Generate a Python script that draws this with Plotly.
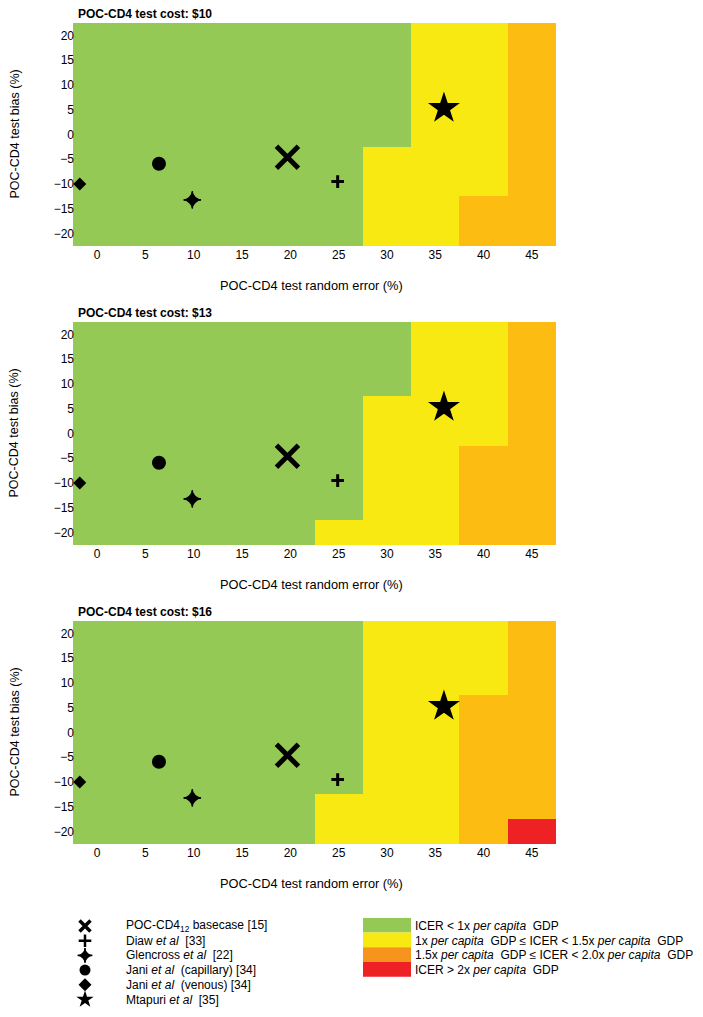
import plotly.graph_objects as go

# --- data ---
RANDOM_ERROR = [0, 5, 10, 15, 20, 25, 30, 35, 40, 45]
BIAS = [-20, -15, -10, -5, 0, 5, 10, 15, 20]

# ICER category per cell: 0 <1x, 1 1-1.5x, 2 1.5-2x, 3 >2x  (rows = bias -20..20)
COST_10 = [
    [0, 0, 0, 0, 0, 0, 1, 1, 2, 2],
    [0, 0, 0, 0, 0, 0, 1, 1, 2, 2],
    [0, 0, 0, 0, 0, 0, 1, 1, 1, 2],
    [0, 0, 0, 0, 0, 0, 1, 1, 1, 2],
    [0, 0, 0, 0, 0, 0, 0, 1, 1, 2],
    [0, 0, 0, 0, 0, 0, 0, 1, 1, 2],
    [0, 0, 0, 0, 0, 0, 0, 1, 1, 2],
    [0, 0, 0, 0, 0, 0, 0, 1, 1, 2],
    [0, 0, 0, 0, 0, 0, 0, 1, 1, 2],
]
COST_13 = [
    [0, 0, 0, 0, 0, 1, 1, 1, 2, 2],
    [0, 0, 0, 0, 0, 0, 1, 1, 2, 2],
    [0, 0, 0, 0, 0, 0, 1, 1, 2, 2],
    [0, 0, 0, 0, 0, 0, 1, 1, 2, 2],
    [0, 0, 0, 0, 0, 0, 1, 1, 1, 2],
    [0, 0, 0, 0, 0, 0, 1, 1, 1, 2],
    [0, 0, 0, 0, 0, 0, 0, 1, 1, 2],
    [0, 0, 0, 0, 0, 0, 0, 1, 1, 2],
    [0, 0, 0, 0, 0, 0, 0, 1, 1, 2],
]
COST_16 = [
    [0, 0, 0, 0, 0, 1, 1, 1, 2, 3],
    [0, 0, 0, 0, 0, 1, 1, 1, 2, 2],
    [0, 0, 0, 0, 0, 0, 1, 1, 2, 2],
    [0, 0, 0, 0, 0, 0, 1, 1, 2, 2],
    [0, 0, 0, 0, 0, 0, 1, 1, 2, 2],
    [0, 0, 0, 0, 0, 0, 1, 1, 2, 2],
    [0, 0, 0, 0, 0, 0, 1, 1, 1, 2],
    [0, 0, 0, 0, 0, 0, 1, 1, 1, 2],
    [0, 0, 0, 0, 0, 0, 1, 1, 1, 2],
]
PANEL_COSTS = ["$10", "$13", "$16"]

STUDY_LABELS = [
    "POC-CD4<sub>12</sub> basecase [15]",
    "Diaw <i>et al</i>  [33]",
    "Glencross <i>et al</i>  [22]",
    "Jani <i>et al</i>  (capillary) [34]",
    "Jani <i>et al</i>  (venous) [34]",
    "Mtapuri <i>et al</i>  [35]",
]
STUDY_ERROR = [19.7, 24.9, 9.85, 6.4, -1.8, 35.9]
STUDY_BIAS = [-4.6, -9.5, -13.2, -5.9, -10.0, 5.3]

ICER_LABELS = [
    "ICER < 1x <i>per capita</i>  GDP",
    "1x <i>per capita</i>  GDP \u2264 ICER < 1.5x <i>per capita</i>  GDP",
    "1.5x <i>per capita</i>  GDP \u2264 ICER < 2.0x <i>per capita</i>  GDP",
    "ICER > 2x <i>per capita</i>  GDP",
]

# --- styling ---
FONT = "Liberation Sans, Arial, sans-serif"
W, H = 703, 1017
GREEN, YELLOW, AMBER, RED = "#93c954", "#f8e913", "#fdbc11", "#ee2125"
LEGEND_COLORS = [GREEN, YELLOW, "#f7941e", RED]
colorscale = [[0, GREEN], [0.25, GREEN], [0.25, YELLOW], [0.5, YELLOW],
              [0.5, AMBER], [0.75, AMBER], [0.75, RED], [1, RED]]

# marker styles per study (Glencross drawn as a thin spike cross over a small star)
symbols = ["x-thin-open", "cross-thin-open", "star-diamond", "circle", "diamond", "star"]
plot_sizes = [22, 9, 13, 14, 10, 24]
plot_lw = [5, 3, 0, 0, 0, 0]
leg_sizes = [11, 9, 11, 11, 10, 13]
leg_lw = [3.5, 2.5, 0, 0, 0, 0]

X0, X1 = 73, 556
panel_tops = [23, 322, 621]
PH = 223


def px_x(v):
    return v / W


def px_y(v):
    return 1 - v / H


def add_marker(k, x, y, size, lw, xa, ya):
    fig.add_trace(go.Scatter(
        x=x, y=y, mode="markers",
        marker=dict(symbol=symbols[k], size=size, color="black",
                    line=dict(color="black", width=lw)),
        xaxis=xa, yaxis=ya, showlegend=False, cliponaxis=False, hoverinfo="skip",
    ))
    if symbols[k] == "star-diamond":
        fig.add_trace(go.Scatter(
            x=x, y=y, mode="markers",
            marker=dict(symbol="cross-thin-open", size=size * 0.95, color="black",
                        line=dict(color="black", width=1.6)),
            xaxis=xa, yaxis=ya, showlegend=False, cliponaxis=False, hoverinfo="skip",
        ))


fig = go.Figure()
annotations = []

for i, (z, cost) in enumerate(zip([COST_10, COST_13, COST_16], PANEL_COSTS)):
    n = "" if i == 0 else str(i + 1)
    xa, ya = "x" + n, "y" + n
    fig.add_trace(go.Heatmap(
        x=RANDOM_ERROR, y=BIAS, z=z, zmin=-0.5, zmax=3.5,
        colorscale=colorscale, showscale=False, xaxis=xa, yaxis=ya,
        hoverinfo="skip",
    ))
    for k in range(len(STUDY_ERROR)):
        add_marker(k, [STUDY_ERROR[k]], [STUDY_BIAS[k]], plot_sizes[k], plot_lw[k], xa, ya)
    top = panel_tops[i]
    dom_y = [px_y(top + PH), px_y(top)]
    ax_common = dict(showgrid=False, zeroline=False, showline=False, ticks="",
                     tickfont=dict(family=FONT, size=12, color="black"))
    fig.layout["xaxis" + n] = dict(ax_common, domain=[px_x(X0), px_x(X1)],
                                   range=[-2.5, 47.5], tickvals=RANDOM_ERROR,
                                   anchor=ya)
    fig.layout["yaxis" + n] = dict(ax_common, domain=dom_y, range=[-22.5, 22.5],
                                   tickvals=BIAS, anchor=xa, ticklabelstandoff=-2)
    annotations.append(dict(text="<b>POC-CD4 test cost: " + cost + "</b>",
                            xref="paper", yref="paper", x=px_x(76), y=px_y(top - 9),
                            xanchor="left", yanchor="middle", showarrow=False,
                            font=dict(family=FONT, size=12, color="black")))
    annotations.append(dict(text="POC-CD4 test random error (%)",
                            xref="paper", yref="paper", x=px_x(311), y=px_y(top + PH + 39),
                            xanchor="center", yanchor="middle", showarrow=False,
                            font=dict(family=FONT, size=12.8, color="black")))
    annotations.append(dict(text="POC-CD4 test bias (%)", textangle=-90,
                            xref="paper", yref="paper", x=px_x(14), y=px_y(top + PH / 2),
                            xanchor="center", yanchor="middle", showarrow=False,
                            font=dict(family=FONT, size=12.5, color="black")))

# --- legend area (row-based axis) ---
LEG_TOP, ROW0, ROW_H = 880, 926, 14.7
rows = list(range(len(STUDY_LABELS)))
fig.layout["xaxis4"] = dict(domain=[0, 1], range=[0, W], visible=False, anchor="y4")
fig.layout["yaxis4"] = dict(domain=[0, px_y(LEG_TOP)],
                            range=[(H - ROW0) / ROW_H, (LEG_TOP - ROW0) / ROW_H],
                            visible=False, anchor="x4")
for k in rows:
    add_marker(k, [85], [k], leg_sizes[k], leg_lw[k], "x4", "y4")
    annotations.append(dict(text=STUDY_LABELS[k], xref="x4", yref="y4", x=124, y=k,
                            xanchor="left", yanchor="middle", showarrow=False,
                            font=dict(family=FONT, size=12, color="black")))

shapes = []
for k, (lab, col) in enumerate(zip(ICER_LABELS, LEGEND_COLORS)):
    shapes.append(dict(type="rect", xref="x4", yref="y4", x0=363, x1=411,
                       y0=k - 0.5 - 0.05, y1=k + 0.5 - 0.05,
                       fillcolor=col, line=dict(width=0), layer="below"))
    annotations.append(dict(text=lab, xref="x4", yref="y4", x=413, y=k,
                            xanchor="left", yanchor="middle", showarrow=False,
                            font=dict(family=FONT, size=12, color="black")))

fig.update_layout(
    width=W, height=H,
    margin=dict(l=0, r=0, t=0, b=0),
    paper_bgcolor="white", plot_bgcolor="white",
    showlegend=False,
    annotations=annotations,
    shapes=shapes,
    font=dict(family=FONT, size=12, color="black"),
)

# drop the browser's default body margin so the figure sits at the page origin
fig.write_html("out.html", config={"displayModeBar": False},
               post_script="document.body.style.margin='0';")
